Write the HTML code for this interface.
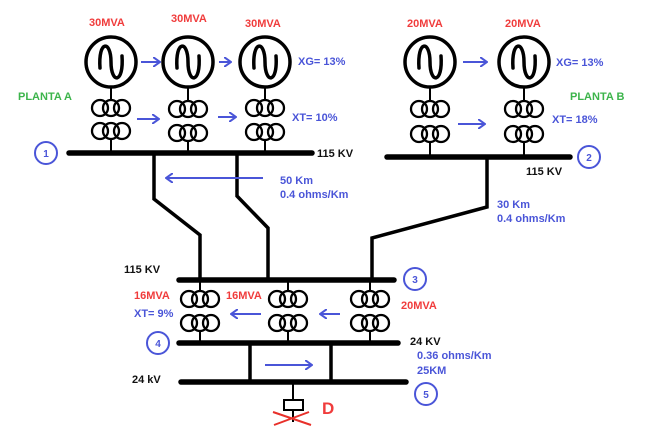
<!DOCTYPE html>
<html><head><style>
body{margin:0;background:#fff}
text{font-family:"Liberation Sans",Arial,sans-serif;font-weight:bold;font-size:11px}
.r{fill:#f03c3c}.b{fill:#4a55d8}.g{fill:#3cb44b}.k{fill:#111}
</style></head><body>
<svg width="648" height="441" viewBox="0 0 648 441" xmlns="http://www.w3.org/2000/svg">
<defs>
<g id="gen"><circle cx="0" cy="0" r="25" fill="none" stroke="#000" stroke-width="3.5"/>
<path d="M-11,6 C-13,-22 0,-22 0,0 C0,22 13,22 11,-6" fill="none" stroke="#000" stroke-width="3.5" stroke-linecap="round"/></g>
<g id="tr" fill="none" stroke="#000" stroke-width="2.3"><circle cx="-11" cy="0" r="8"/><circle cx="0" cy="0" r="8"/><circle cx="11" cy="0" r="8"/></g>
<marker id="ah" markerWidth="8" markerHeight="10" refX="7" refY="5" orient="auto" markerUnits="userSpaceOnUse"><path d="M0,0 L7,5 L0,10" fill="none" stroke="#4a55d8" stroke-width="2"/></marker>
</defs>
<g stroke="#000" stroke-width="2">
<line x1="111" y1="87" x2="111" y2="100"/><line x1="188" y1="87" x2="188" y2="101"/><line x1="265" y1="87" x2="265" y2="100"/>
<line x1="430" y1="87" x2="430" y2="101"/><line x1="524" y1="87" x2="524" y2="101"/>
<line x1="111" y1="139" x2="111" y2="153"/><line x1="188" y1="141" x2="188" y2="153"/><line x1="265" y1="140" x2="265" y2="153"/>
<line x1="430" y1="142" x2="430" y2="157"/><line x1="524" y1="142" x2="524" y2="157"/>
<line x1="200" y1="280" x2="200" y2="291"/><line x1="288" y1="280" x2="288" y2="291"/><line x1="370" y1="280" x2="370" y2="291"/>
<line x1="200" y1="331" x2="200" y2="343"/><line x1="288" y1="331" x2="288" y2="343"/><line x1="370" y1="331" x2="370" y2="343"/>
<line x1="293" y1="382" x2="293" y2="400"/><line x1="293" y1="410" x2="293" y2="422"/>
</g>
<use href="#gen" x="111" y="62"/><use href="#gen" x="188" y="62"/><use href="#gen" x="265" y="62"/>
<use href="#gen" x="430" y="62"/><use href="#gen" x="524" y="62"/>
<use href="#tr" x="111" y="108"/><use href="#tr" x="111" y="131"/>
<use href="#tr" x="188" y="109"/><use href="#tr" x="188" y="133"/>
<use href="#tr" x="265" y="108"/><use href="#tr" x="265" y="132"/>
<use href="#tr" x="430" y="109"/><use href="#tr" x="430" y="134"/>
<use href="#tr" x="524" y="109"/><use href="#tr" x="524" y="134"/>
<use href="#tr" x="200" y="299"/><use href="#tr" x="200" y="323"/>
<use href="#tr" x="288" y="299"/><use href="#tr" x="288" y="323"/>
<use href="#tr" x="370" y="299"/><use href="#tr" x="370" y="323"/>
<g stroke="#000" stroke-width="5.5" stroke-linecap="round">
<line x1="69" y1="153" x2="312" y2="153"/>
<line x1="387" y1="157" x2="570" y2="157"/>
<line x1="179" y1="280" x2="394" y2="280"/>
<line x1="179" y1="343" x2="398" y2="343"/>
<line x1="181" y1="382" x2="406" y2="382"/>
</g>
<g stroke="#000" stroke-width="3.5" fill="none">
<polyline points="154,153 154,199 200,235 200,280"/>
<polyline points="237,153 237,196 268,228 268,280"/>
<polyline points="487,157 487,207 372,238 372,280"/>
<line x1="250" y1="343" x2="250" y2="382"/><line x1="331" y1="343" x2="331" y2="382"/>
</g>
<rect x="284" y="400" width="19" height="10" fill="#fff" stroke="#000" stroke-width="2"/>
<g stroke="#e8302a" stroke-width="2"><line x1="273" y1="412" x2="311" y2="425"/><line x1="274" y1="425" x2="309" y2="412"/></g>
<g stroke="#4a55d8" stroke-width="2" marker-end="url(#ah)">
<line x1="141" y1="62" x2="160" y2="62"/><line x1="219" y1="62" x2="231" y2="62"/>
<line x1="137" y1="119" x2="159" y2="119"/><line x1="218" y1="117" x2="236" y2="117"/>
<line x1="463" y1="62" x2="487" y2="62"/><line x1="458" y1="124" x2="485" y2="124"/>
<line x1="263" y1="178" x2="166" y2="178"/>
<line x1="261" y1="314" x2="231" y2="314"/><line x1="340" y1="314" x2="320" y2="314"/>
<line x1="265" y1="365" x2="312" y2="365"/>
</g>
<g fill="none" stroke="#4a55d8" stroke-width="2">
<circle cx="46" cy="153" r="11"/><circle cx="589" cy="157" r="11"/><circle cx="415" cy="279" r="11"/>
<circle cx="158" cy="343" r="11"/><circle cx="426" cy="394" r="11"/>
</g>
<g class="b" text-anchor="middle">
<text x="46" y="157" style="font-size:10px">1</text><text x="589" y="161" style="font-size:10px">2</text><text x="415" y="283" style="font-size:10px">3</text><text x="158" y="347" style="font-size:10px">4</text><text x="426" y="398" style="font-size:10px">5</text>
</g>
<text class="r" x="89" y="26">30MVA</text><text class="r" x="171" y="22">30MVA</text><text class="r" x="245" y="27">30MVA</text>
<text class="r" x="407" y="27">20MVA</text><text class="r" x="505" y="27">20MVA</text>
<text class="b" x="298" y="65">XG= 13%</text><text class="b" x="292" y="121">XT= 10%</text>
<text class="b" x="556" y="66">XG= 13%</text><text class="b" x="552" y="123">XT= 18%</text>
<text class="g" x="18" y="100">PLANTA A</text><text class="g" x="570" y="100">PLANTA B</text>
<text class="k" x="317" y="157">115 KV</text><text class="k" x="526" y="175">115 KV</text>
<text class="b" x="280" y="184">50 Km</text><text class="b" x="280" y="198">0.4 ohms/Km</text>
<text class="b" x="497" y="208">30 Km</text><text class="b" x="497" y="222">0.4 ohms/Km</text>
<text class="k" x="124" y="273">115 KV</text>
<text class="r" x="134" y="299">16MVA</text><text class="r" x="226" y="299">16MVA</text><text class="r" x="401" y="309">20MVA</text>
<text class="b" x="134" y="317">XT= 9%</text>
<text class="k" x="410" y="345">24 KV</text>
<text class="b" x="417" y="359">0.36 ohms/Km</text><text class="b" x="417" y="374">25KM</text>
<text class="k" x="132" y="383">24 kV</text>
<text class="r" x="322" y="414" style="font-size:17px">D</text>
</svg>
</body></html>
